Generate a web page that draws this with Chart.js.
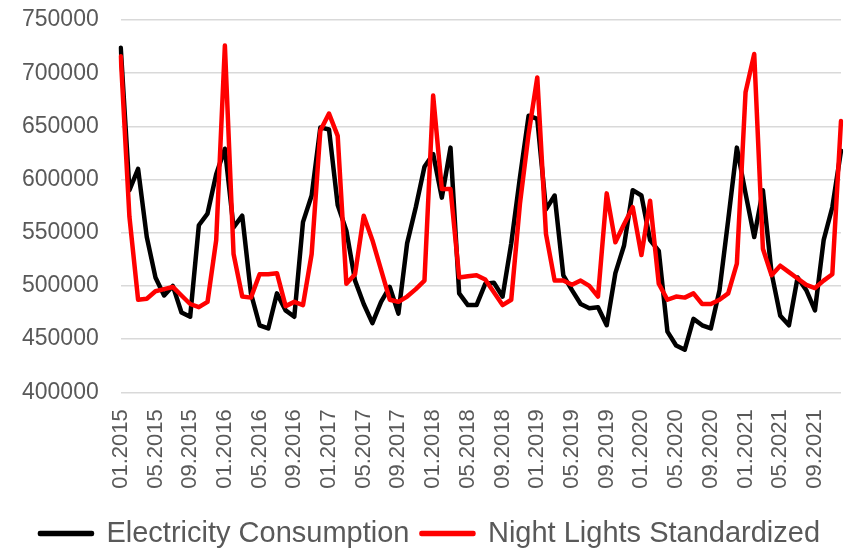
<!DOCTYPE html>
<html lang="en">
  <head>
    <meta charset="UTF-8" />
    <title>Electricity vs Night Lights</title>
    <script src="https://cdn.jsdelivr.net/npm/chart.js@4.4.0/dist/chart.umd.min.js"></script>
    <style>
      body { margin: 0; background: #fff; }
      #wrap { width: 846px; height: 551px; }
    </style>
  </head>
  <body>
    <div id="wrap"><canvas id="lightsChart" width="846" height="551"></canvas></div>
    <script>
      // months 01.2015 .. 12.2021
      var months = [
        "01.2015","02.2015","03.2015","04.2015","05.2015","06.2015","07.2015","08.2015","09.2015","10.2015","11.2015","12.2015",
        "01.2016","02.2016","03.2016","04.2016","05.2016","06.2016","07.2016","08.2016","09.2016","10.2016","11.2016","12.2016",
        "01.2017","02.2017","03.2017","04.2017","05.2017","06.2017","07.2017","08.2017","09.2017","10.2017","11.2017","12.2017",
        "01.2018","02.2018","03.2018","04.2018","05.2018","06.2018","07.2018","08.2018","09.2018","10.2018","11.2018","12.2018",
        "01.2019","02.2019","03.2019","04.2019","05.2019","06.2019","07.2019","08.2019","09.2019","10.2019","11.2019","12.2019",
        "01.2020","02.2020","03.2020","04.2020","05.2020","06.2020","07.2020","08.2020","09.2020","10.2020","11.2020","12.2020",
        "01.2021","02.2021","03.2021","04.2021","05.2021","06.2021","07.2021","08.2021","09.2021","10.2021","11.2021","12.2021"
      ];

      var electricity = [
        724000, 590000, 610000, 546000, 508000, 491000, 500000, 475000, 471000, 557000, 568000, 605000,
        629000, 555000, 566000, 493000, 463000, 460000, 493000, 477000, 471000, 560000, 585000, 649000,
        647000, 576000, 552000, 505000, 483000, 465000, 485000, 499000, 474000, 540000, 574000, 612000,
        624000, 583000, 630000, 493000, 482000, 482000, 502000, 503000, 490000, 540000, 602000, 660000,
        657000, 572000, 585000, 510000, 496000, 483000, 479000, 480000, 463000, 512000, 538000, 590000,
        585000, 543000, 533000, 457000, 444000, 440000, 469000, 463000, 460000, 496000, 562000, 630000,
        587000, 546000, 590000, 512000, 472000, 463000, 508000, 496000, 477000, 543000, 574000, 627000
      ];

      var nightLights = [
        716000, 565000, 487000, 488000, 495000, 497000, 499000, 491000, 483000, 480000, 485000, 543000,
        726000, 530000, 490000, 489000, 511000, 511000, 512000, 481000, 485000, 482000, 530000, 646000,
        662000, 641000, 502000, 511000, 566000, 543000, 515000, 487000, 485000, 490000, 497000, 505000,
        679000, 591000, 591000, 508000, 509000, 510000, 506000, 494000, 482000, 487000, 577000, 643000,
        696000, 549000, 505000, 505000, 501000, 505000, 500000, 490000, 587000, 541000, 558000, 574000,
        529000, 580000, 502000, 487000, 490000, 489000, 493000, 483000, 483000, 487000, 493000, 521000,
        682000, 718000, 535000, 510000, 519000, 513000, 507000, 501000, 498000, 505000, 511000, 655000
      ];

      var yTicks = [400000, 450000, 500000, 550000, 600000, 650000, 700000, 750000];

      var grey = "#595959";
      var fontName = "'Liberation Sans', Arial, sans-serif";
      var ctx = document.getElementById("lightsChart").getContext("2d");

      var lightsChart = new Chart(ctx, {
        type: "line",
        data: {
          labels: months,
          datasets: [
            {
              label: "Electricity Consumption",
              data: electricity,
              borderColor: "#000000",
              backgroundColor: "#000000",
              borderWidth: 4.5,
              pointRadius: 0,
              tension: 0,
              borderCapStyle: "round",
              borderJoinStyle: "round",
              order: 1,
            },
            {
              label: "Night Lights Standardized",
              data: nightLights,
              borderColor: "#ff0000",
              backgroundColor: "#ff0000",
              borderWidth: 4.5,
              pointRadius: 0,
              tension: 0,
              borderCapStyle: "round",
              borderJoinStyle: "round",
              order: 0,
            },
          ],
        },
        options: {
          responsive: false,
          animation: false,
          layout: { padding: { left: 19, right: 5, top: 20, bottom: -7 } },
          plugins: {
            tooltip: { enabled: false },
            legend: {
              position: "bottom",
              // empty title only used as spacer above the items
              title: { display: true, text: "", font: { size: 1 }, padding: { top: 14, bottom: 0 } },
              labels: {
                color: grey,
                font: { family: fontName, size: 29 },
                boxWidth: 52,
                boxHeight: 1,
                padding: 12,
                sort: function (a, b) { return a.datasetIndex - b.datasetIndex; },
              },
            },
          },
          scales: {
            x: {
              offset: false,
              grid: { display: true, drawOnChartArea: false, drawTicks: true, tickLength: 14, tickColor: "rgba(0,0,0,0)" },
              border: { display: false },
              ticks: {
                autoSkip: false,
                minRotation: 90,
                maxRotation: 90,
                padding: 3,
                color: grey,
                font: { family: fontName, size: 22 },
                callback: function (val, i) { return i % 4 === 0 ? months[i] : null; },
              },
            },
            y: {
              min: yTicks[0],
              max: yTicks[yTicks.length - 1],
              afterBuildTicks: function (axis) {
                axis.ticks = yTicks.map(function (v) { return { value: v }; });
              },
              grid: { color: "#d9d9d9", lineWidth: 1.5, drawTicks: true, tickLength: 19, tickColor: "rgba(0,0,0,0)" },
              border: { display: false },
              ticks: {
                padding: 3,
                color: grey,
                font: { family: fontName, size: 23 },
                callback: function (v) { return String(v); },
              },
            },
          },
        },
      });
    </script>
  </body>
</html>
